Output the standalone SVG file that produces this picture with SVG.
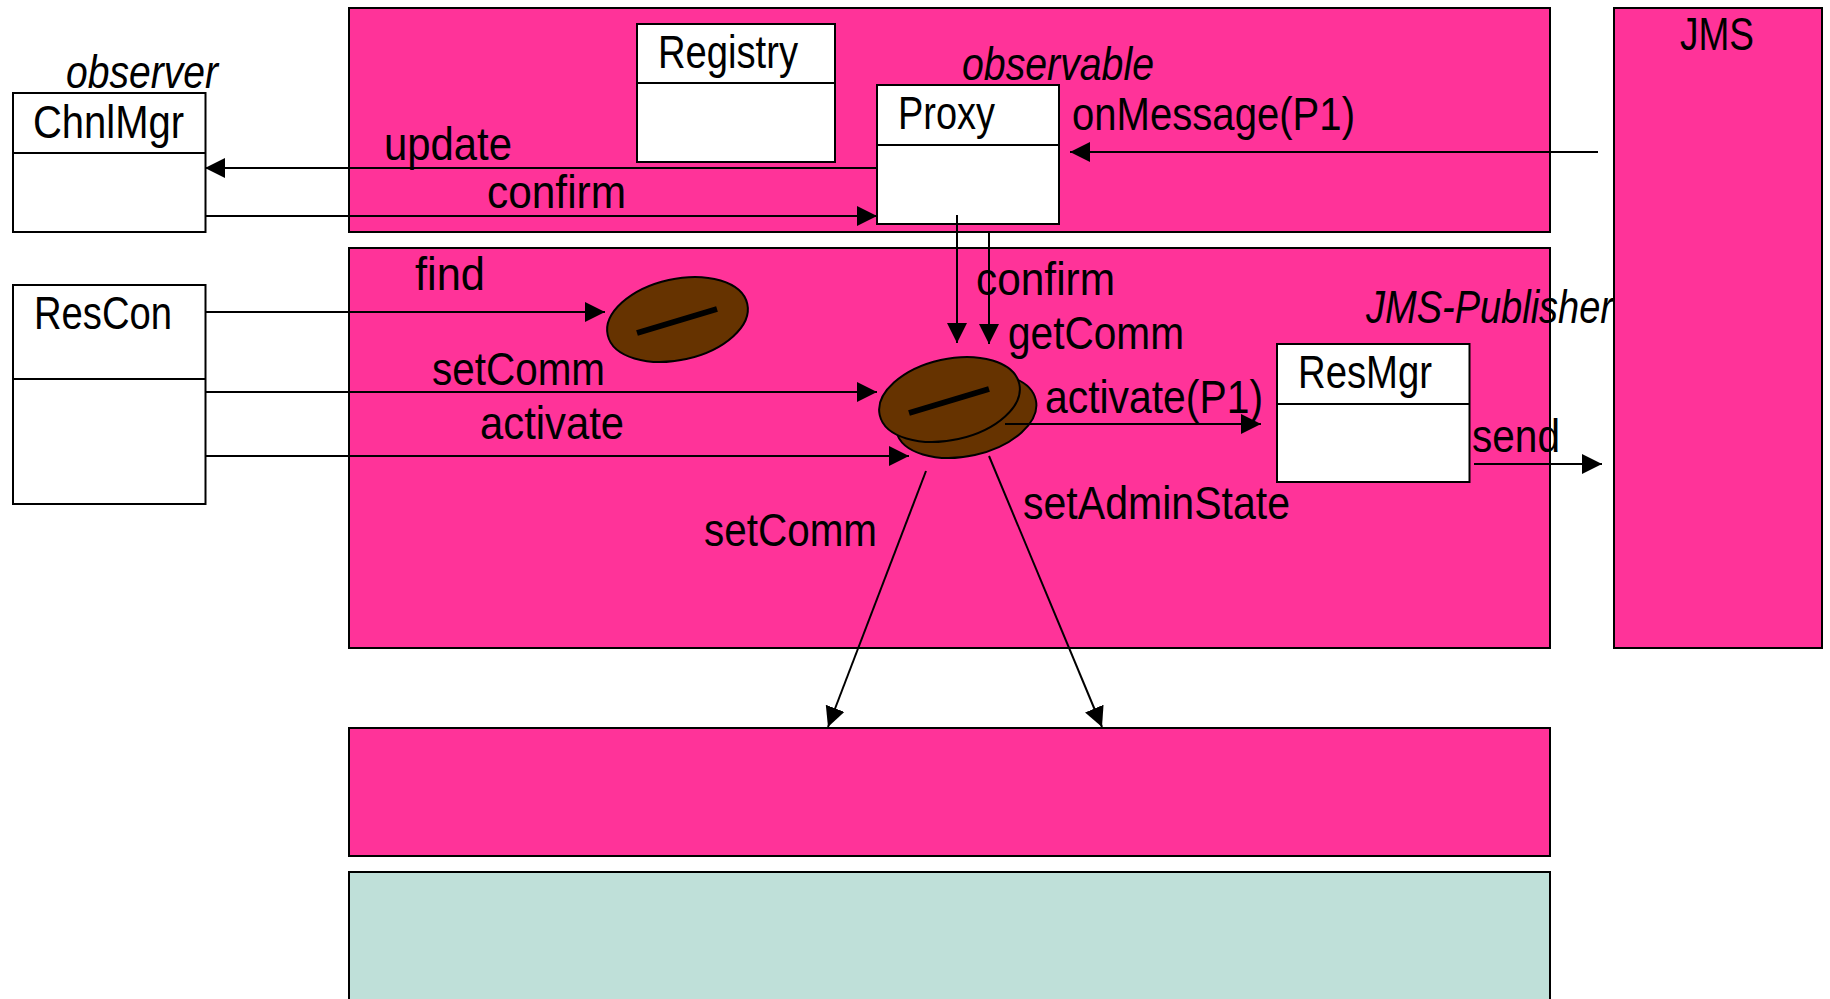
<svg xmlns="http://www.w3.org/2000/svg" width="1830" height="999" viewBox="0 0 1830 999">
<style>
text{font-family:"Liberation Sans",Arial,sans-serif;font-size:47px;fill:#000}
.i{font-style:italic}
.p{fill:#ff3399;stroke:#000;stroke-width:2}
.b{fill:#fff;stroke:#000;stroke-width:2}
.l{stroke:#000;stroke-width:2;fill:none}
.c{stroke:#000;stroke-width:2;fill:none;marker-end:url(#a)}
.bean{fill:#663300;stroke:#000;stroke-width:2}
.s{stroke:#000;stroke-width:6}
</style>
<defs><marker id="a" markerUnits="userSpaceOnUse" markerWidth="22" markerHeight="22" refX="20" refY="10" orient="auto"><path d="M0 0L20 10L0 20Z" fill="#000"/></marker></defs>
<g id="layers">
<rect class="p" x="349" y="8" width="1201" height="224"/>
<rect class="p" x="349" y="248" width="1201" height="400"/>
<rect class="p" x="349" y="728" width="1201" height="128"/>
<rect x="349" y="872" width="1201" height="140" fill="#bfe0d9" stroke="#000" stroke-width="2"/>
</g>
<g id="jms"><rect class="p" x="1614" y="8" width="208" height="640"/><text x="1680" y="50" textLength="74" lengthAdjust="spacingAndGlyphs">JMS</text></g>
<g id="chnlmgr"><rect class="b" x="13" y="93" width="192.500" height="139"/><path class="l" d="M13 153H205.500"/><text x="33" y="138" textLength="151" lengthAdjust="spacingAndGlyphs">ChnlMgr</text></g>
<g id="rescon"><rect class="b" x="13" y="285" width="192.500" height="219"/><path class="l" d="M13 379H205.500"/><text x="34" y="329" textLength="138" lengthAdjust="spacingAndGlyphs">ResCon</text></g>
<g id="registry"><rect class="b" x="637" y="24" width="198" height="138"/><path class="l" d="M637 83H835"/><text x="658" y="68" textLength="140" lengthAdjust="spacingAndGlyphs">Registry</text></g>
<g id="proxy"><rect class="b" x="877" y="85" width="182" height="139"/><path class="l" d="M877 145H1059"/><text x="898" y="129" textLength="97" lengthAdjust="spacingAndGlyphs">Proxy</text></g>
<g id="resmgr"><rect class="b" x="1277" y="344" width="192.500" height="138"/><path class="l" d="M1277 404H1469.500"/><text x="1298" y="388" textLength="134" lengthAdjust="spacingAndGlyphs">ResMgr</text></g>
<g id="bean-find"><ellipse class="bean" cx="677.500" cy="319.500" rx="71.500" ry="40.500" transform="rotate(-12.600 677.500 319.500)"/><path class="s" d="M637 333L717 309"/></g>
<g id="bean-main"><ellipse class="bean" cx="966" cy="415.500" rx="71.500" ry="40.500" transform="rotate(-12.600 966 415.500)"/><ellipse class="bean" cx="949.500" cy="399.500" rx="71.500" ry="40.500" transform="rotate(-12.600 949.500 399.500)"/><path class="s" d="M909 413L989 389"/></g>
<g id="connectors">
<path class="c" d="M877 168H205"/>
<path class="c" d="M205 216H877"/>
<path class="c" d="M1598 152H1070"/>
<path class="c" d="M205 312H605"/>
<path class="c" d="M205 392H877"/>
<path class="c" d="M205 456H909"/>
<path class="c" d="M957 215V343"/>
<path class="c" d="M989 232V344"/>
<path class="c" d="M1005 424H1261"/>
<path class="c" d="M1474 464H1602"/>
<path class="c" d="M926 471L828 727"/>
<path class="c" d="M989 456L1102 727"/>
</g>
<g id="labels">
<text class="i" x="66" y="88" textLength="152" lengthAdjust="spacingAndGlyphs">observer</text>
<text class="i" x="962" y="80" textLength="192" lengthAdjust="spacingAndGlyphs">observable</text>
<text class="i" x="1366" y="323" textLength="247" lengthAdjust="spacingAndGlyphs">JMS-Publisher</text>
<text x="1072" y="130" textLength="283" lengthAdjust="spacingAndGlyphs">onMessage(P1)</text>
<text x="384" y="160" textLength="128" lengthAdjust="spacingAndGlyphs">update</text>
<text x="487" y="208" textLength="139" lengthAdjust="spacingAndGlyphs">confirm</text>
<text x="415" y="290" textLength="70" lengthAdjust="spacingAndGlyphs">find</text>
<text x="432" y="385" textLength="173" lengthAdjust="spacingAndGlyphs">setComm</text>
<text x="480" y="439" textLength="144" lengthAdjust="spacingAndGlyphs">activate</text>
<text x="976" y="295" textLength="139" lengthAdjust="spacingAndGlyphs">confirm</text>
<text x="1008" y="349" textLength="176" lengthAdjust="spacingAndGlyphs">getComm</text>
<text x="1045" y="413" textLength="218" lengthAdjust="spacingAndGlyphs">activate(P1)</text>
<text x="1472" y="452" textLength="88" lengthAdjust="spacingAndGlyphs">send</text>
<text x="704" y="546" textLength="173" lengthAdjust="spacingAndGlyphs">setComm</text>
<text x="1023" y="519" textLength="267" lengthAdjust="spacingAndGlyphs">setAdminState</text>
</g>
</svg>
